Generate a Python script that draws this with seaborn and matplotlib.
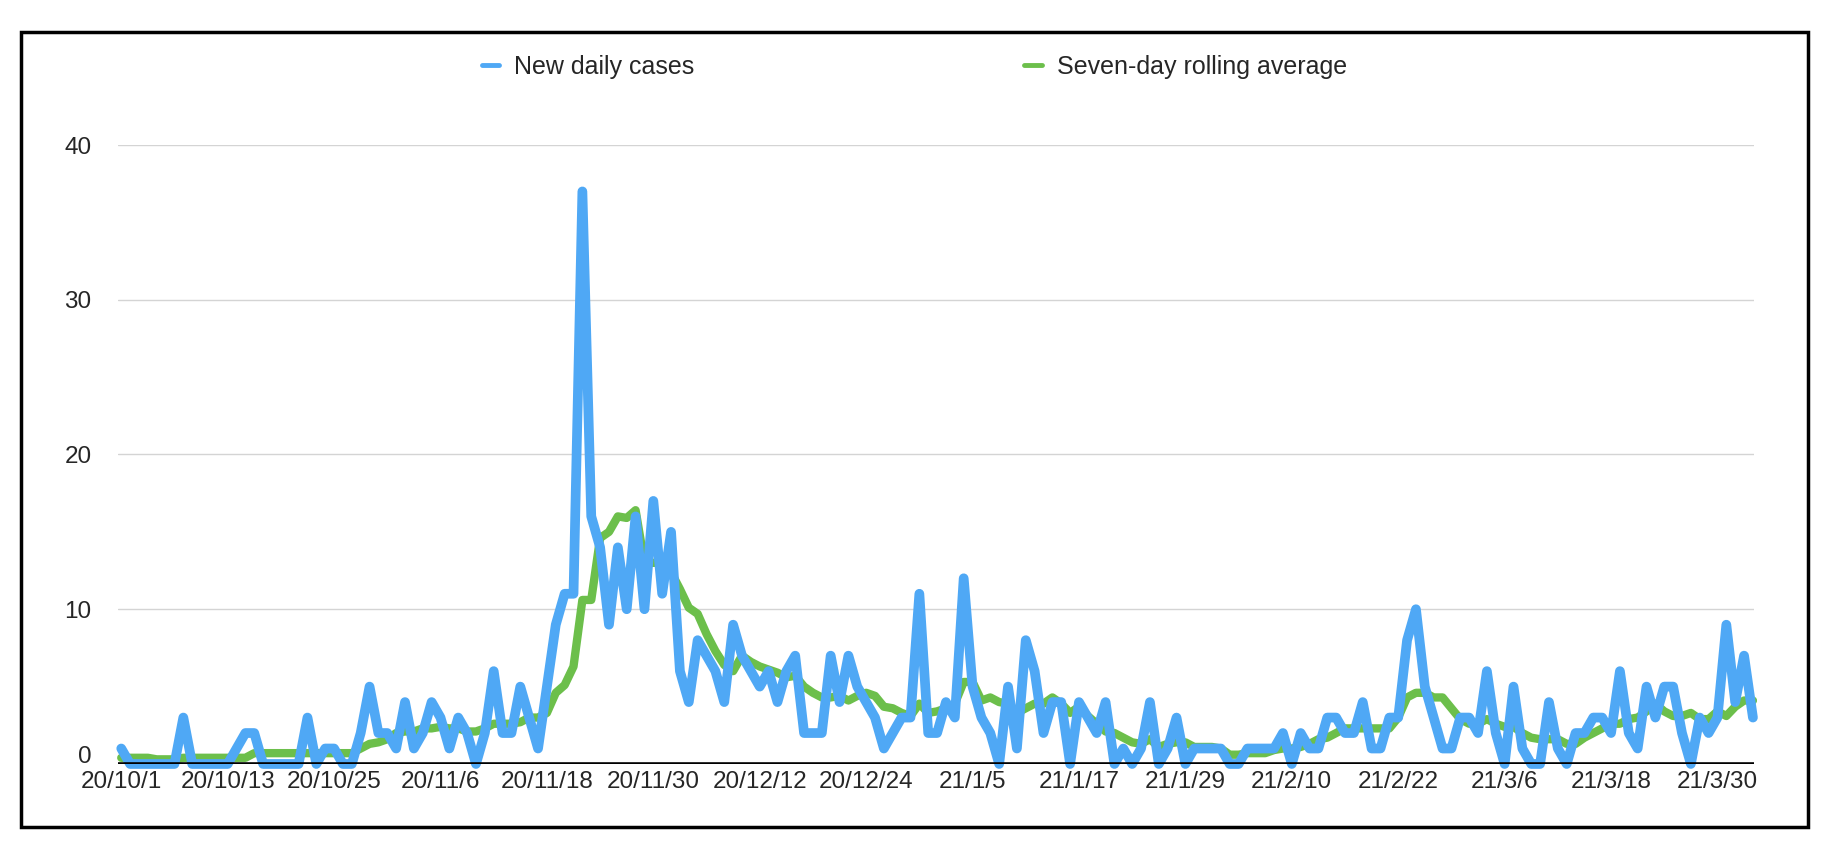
import numpy as np
import pandas as pd
import matplotlib
matplotlib.use("Agg")
import matplotlib.pyplot as plt
import matplotlib.transforms as mtransforms
import seaborn as sns
from matplotlib.patches import Rectangle

# Daily data, 2020-10-01 .. 2021-04-03
start_date = "2020-10-01"

new_cases = [
    1, 0, 0, 0, 0, 0, 0, 3, 0, 0, 0, 0, 0, 1, 2, 2, 0, 0, 0, 0, 0,
    3, 0, 1, 1, 0, 0, 2, 5, 2, 2, 1, 4, 1, 2, 4, 3, 1, 3, 2, 0,
    2, 6, 2, 2, 5, 3, 1, 5, 9, 11, 11, 37, 16, 14, 9, 14, 10, 16, 10, 17,
    11, 15, 6, 4, 8, 7, 6, 4, 9, 7, 6, 5, 6, 4, 6, 7, 2, 2, 2, 7,
    4, 7, 5, 4, 3, 1, 2, 3, 3, 11, 2, 2, 4, 3, 12, 5, 3, 2, 0, 5,
    1, 8, 6, 2, 4, 4, 0, 4, 3, 2, 4, 0, 1, 0, 1, 4, 0, 1, 3, 0,
    1, 1, 1, 1, 0, 0, 1, 1, 1, 1, 2, 0, 2, 1, 1, 3, 3, 2, 2, 4,
    1, 1, 3, 3, 8, 10, 5, 3, 1, 1, 3, 3, 2, 6, 2, 0, 5, 1, 0, 0,
    4, 1, 0, 2, 2, 3, 3, 2, 6, 2, 1, 5, 3, 5, 5, 2, 0, 3, 2, 3,
    9, 4, 7, 3,
]

rolling_avg = [
    0.4, 0.4, 0.4, 0.4, 0.3, 0.3, 0.3,
    0.4, 0.4, 0.4, 0.4, 0.4, 0.4, 0.4,
    0.4, 0.7, 0.7, 0.7, 0.7, 0.7, 0.7,
    0.7, 0.7, 0.7, 0.7, 0.7, 0.7, 1.0,
    1.3, 1.4, 1.6, 2.0, 2.1, 2.1, 2.3,
    2.3, 2.4, 2.3, 2.3, 2.1, 2.1, 2.3,
    2.6, 2.6, 2.6, 2.7, 3.0, 3.0, 3.3,
    4.6, 5.1, 6.3, 10.6, 10.6, 14.6, 15.0,
    16.0, 15.9, 16.4, 13.0, 13.0, 13.0, 12.4,
    11.3, 10.1, 9.7, 8.4, 7.3, 6.4, 6.0,
    7.0, 6.6, 6.3, 6.1, 5.9, 5.6, 5.7,
    5.0, 4.6, 4.3, 4.3, 4.4, 4.1, 4.4,
    4.6, 4.4, 3.7, 3.6, 3.3, 3.1, 3.9,
    3.3, 3.4, 3.6, 3.9, 5.3, 5.3, 4.1,
    4.3, 4.0, 3.9, 3.3, 3.6, 3.9, 3.9,
    4.3, 3.9, 3.3, 3.7, 3.1, 2.6, 2.1,
    2.0, 1.7, 1.4, 1.3, 1.6, 1.1, 1.3,
    1.4, 1.4, 1.1, 1.1, 1.1, 1.0, 0.6,
    0.6, 0.7, 0.7, 0.7, 0.9, 1.0, 1.0,
    1.1, 1.3, 1.6, 1.7, 2.0, 2.3, 2.3,
    2.3, 2.3, 2.3, 2.3, 3.0, 4.3, 4.6,
    4.6, 4.3, 4.3, 3.6, 2.9, 2.6, 2.6,
    2.9, 2.6, 2.4, 2.4, 2.0, 1.7, 1.6,
    1.6, 1.6, 1.3, 1.3, 1.7, 2.0, 2.3,
    2.6, 2.6, 2.9, 3.0, 3.4, 3.9, 3.4,
    3.1, 3.1, 3.3, 2.9, 2.9, 3.4, 3.1,
    3.7, 4.1, 4.1,
]

tick_labels = ["20/10/1", "20/10/13", "20/10/25", "20/11/6", "20/11/18",
               "20/11/30", "20/12/12", "20/12/24", "21/1/5", "21/1/17",
               "21/1/29", "21/2/10", "21/2/22", "21/3/6", "21/3/18", "21/3/30"]
y_ticks = [0, 10, 20, 30, 40]

dates = pd.date_range(start_date, periods=len(new_cases), freq="D")
df = pd.DataFrame({"date": dates, "new": new_cases, "avg": rolling_avg})

sns.set_style("white")
plt.rcParams["font.family"] = ["Liberation Sans", "DejaVu Sans"]

fig = plt.figure(figsize=(18.34, 8.56), dpi=100)
ax = fig.add_axes([0.0643, 0.1075, 0.8921, 0.7231])

blue = "#4FA8F5"
green = "#6CBF4B"

sns.lineplot(data=df, x="date", y="new", ax=ax, color=blue, linewidth=7,
             label="New daily cases", clip_on=False)
sns.lineplot(data=df, x="date", y="avg", ax=ax, color=green, linewidth=6,
             label="Seven-day rolling average", clip_on=False)
# blue on top of green, as in the reference
ax.lines[0].set_zorder(3)
ax.lines[1].set_zorder(2)

ax.axhline(0, color="black", linewidth=2.6, zorder=4)

ax.set_ylim(0, 40)
ax.set_yticks(y_ticks)
ax.set_xlim(dates[0] - pd.Timedelta(hours=9), dates[-1] + pd.Timedelta(hours=3))
ax.set_xticks(dates[::12])
ax.set_xticklabels(tick_labels)

ax.yaxis.grid(True, color="#d4d4d4", linewidth=1.0)
ax.xaxis.grid(False)
for s in ax.spines.values():
    s.set_visible(False)

ax.tick_params(axis="x", length=0, pad=5, labelsize=17.5)
ax.tick_params(axis="y", length=0, pad=19, labelsize=17.5)
ax.set_xlabel("")
ax.set_ylabel("")

# lift the "0" label so it clears the first date label
shift = mtransforms.ScaledTranslation(0, 7 / 72, fig.dpi_scale_trans)
zero_lab = ax.get_yticklabels()[0]
zero_lab.set_transform(zero_lab.get_transform() + shift)

handles, labels = ax.get_legend_handles_labels()
ax.get_legend().remove()
leg = fig.legend(handles, labels, loc="center", bbox_to_anchor=(0.4985, 0.922),
                 ncol=2, frameon=False, fontsize=18, handlelength=0.7,
                 handletextpad=0.6, columnspacing=13.2)
for h in leg.legend_handles:
    h.set_linewidth(3.5)

# outer frame
fig.patches.append(Rectangle((0.0115, 0.0339), 0.9744, 0.9287,
                             transform=fig.transFigure, fill=False,
                             edgecolor="black", linewidth=2.5))

plt.savefig("out.png", dpi=100)
